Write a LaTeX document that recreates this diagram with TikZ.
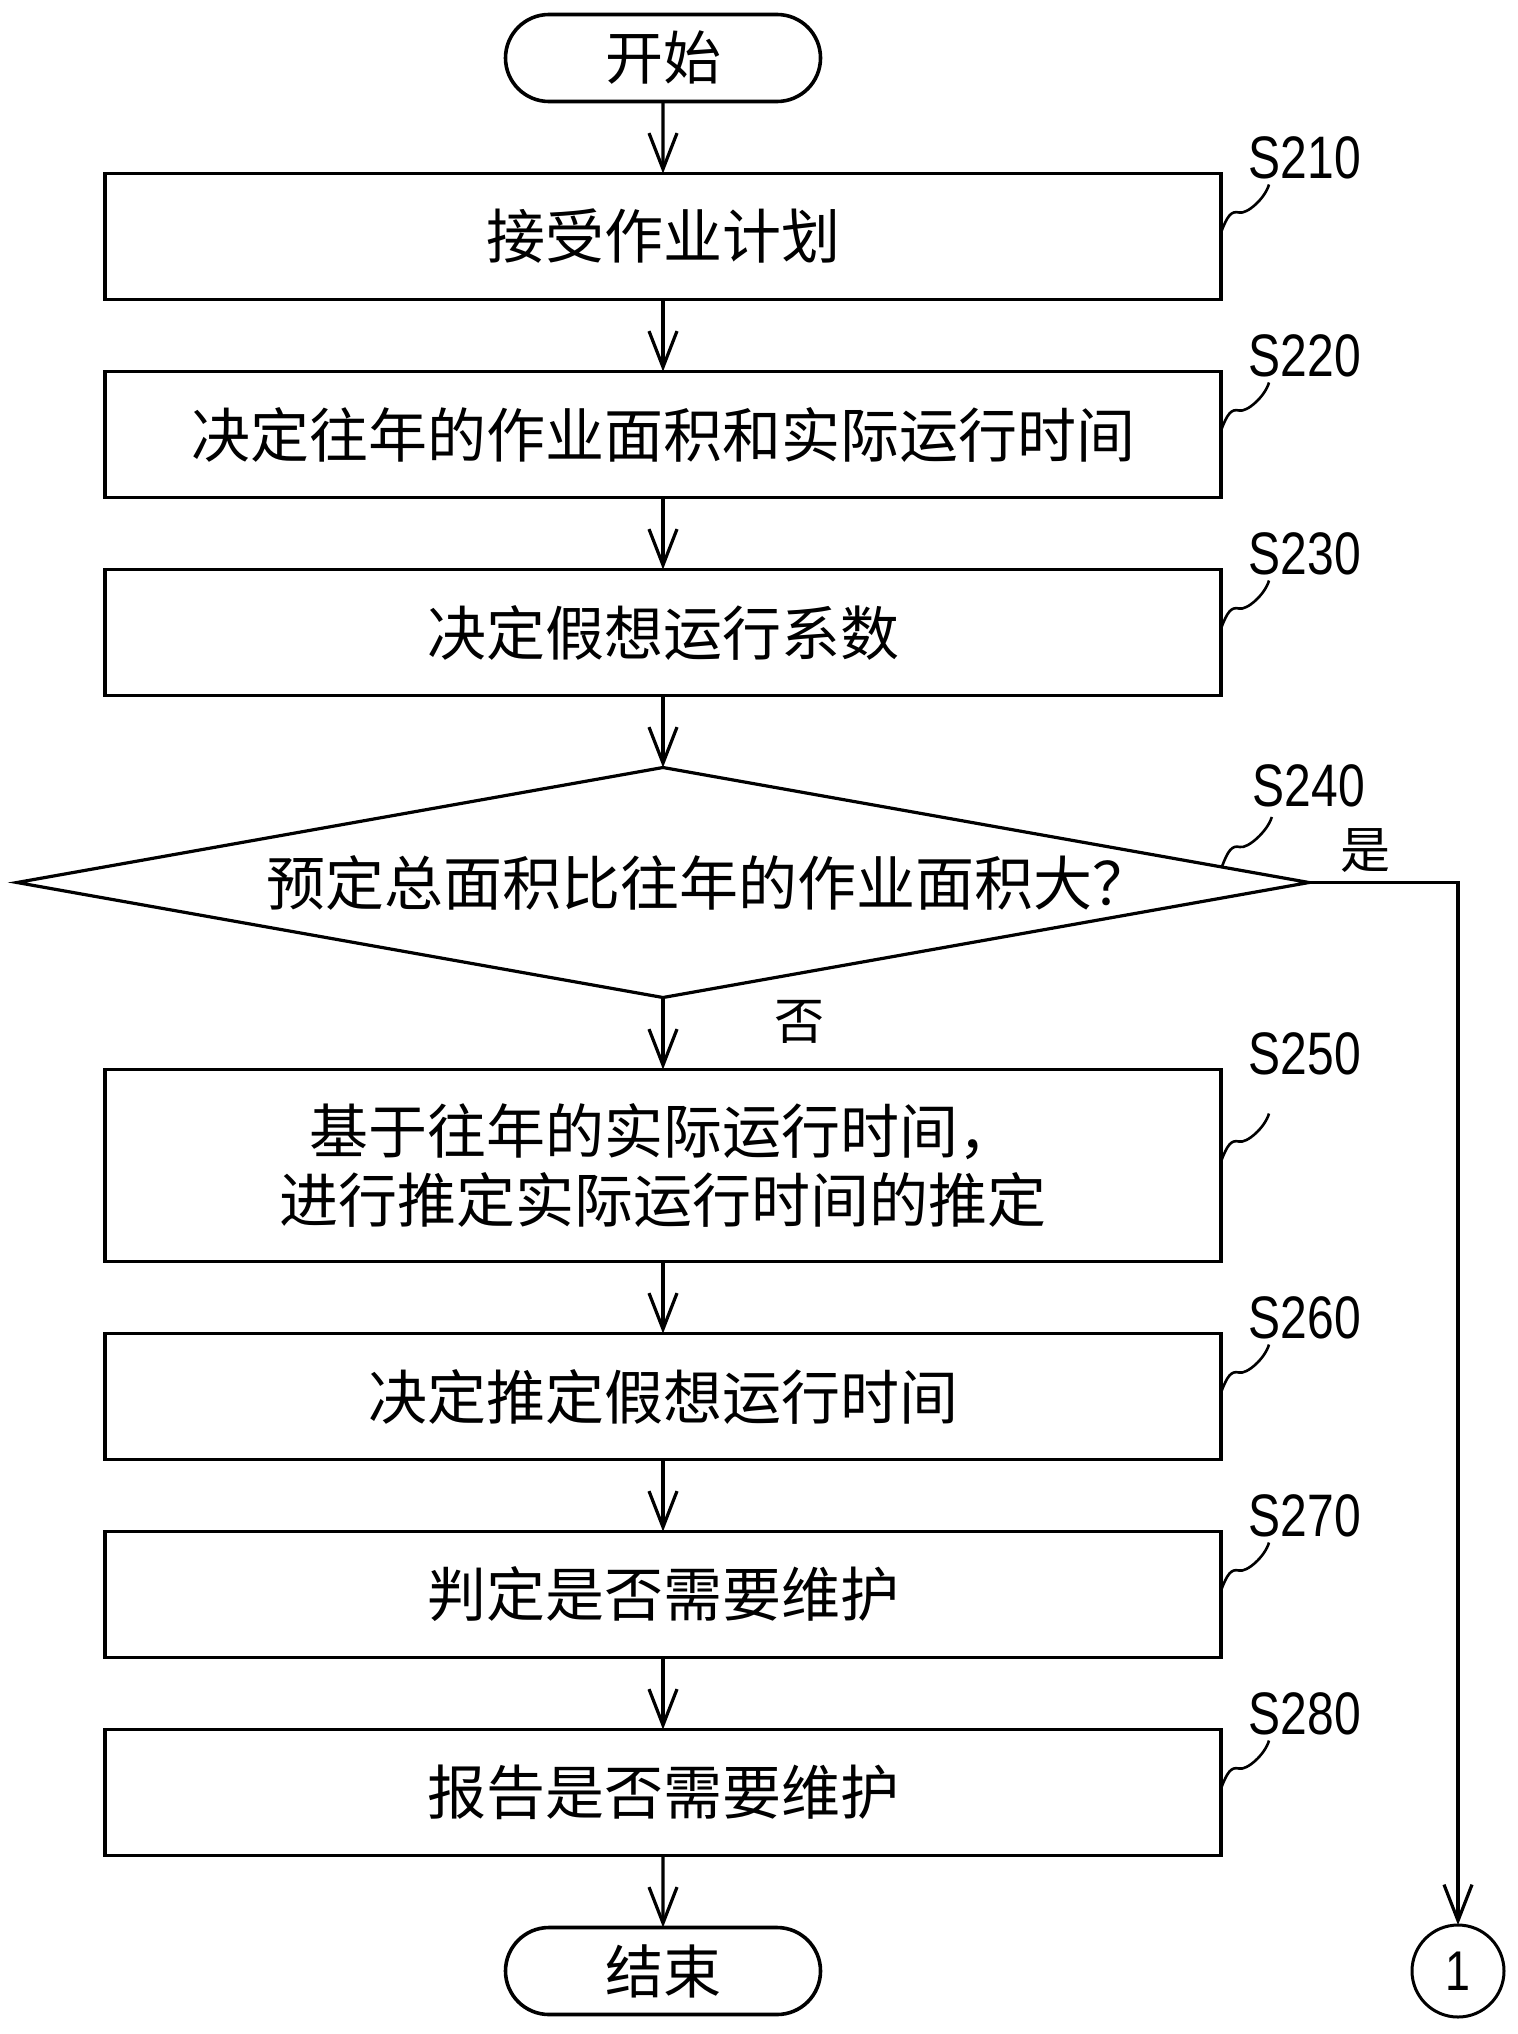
\documentclass[tikz,border=0pt]{standalone}
\usepackage{fontspec}
\newfontfamily\cjkfont{Noto Sans CJK SC}
\newfontfamily\numfont[FakeStretch=0.8]{Liberation Sans}
\usetikzlibrary{positioning,shapes.geometric,shapes.misc,arrows.meta,calc}

\tikzset{
  process/.style={draw, line width=1.8pt, minimum width=558pt, minimum height=63pt,
    inner sep=0pt, outer sep=0pt, align=center, font=\cjkfont\fontsize{29.5}{34.5}\selectfont},
  decision/.style={draw, diamond, line width=1.6pt, minimum width=646pt, minimum height=115pt,
    aspect=5.6, inner sep=0pt, outer sep=0pt, font=\cjkfont\fontsize{29.5}{34.5}\selectfont},
  terminal/.style={draw, rounded rectangle, line width=1.8pt, minimum width=157.5pt,
    minimum height=43.5pt, inner sep=0pt, outer sep=0pt, font=\cjkfont\fontsize{29}{34.5}\selectfont},
  connector/.style={draw, circle, line width=1.5pt, minimum size=46pt, inner sep=0pt,
    outer sep=0pt, font=\numfont\fontsize{28}{28}\selectfont},
  steplabel/.style={inner sep=0pt, font=\numfont\fontsize{30}{30}\selectfont},
  branchlabel/.style={inner sep=0pt, font=\cjkfont\fontsize{25}{25}\selectfont},
  flow/.style={line width=1.6pt, -{Straight Barb[length=18pt,width=14pt]}},
  lead/.style={line width=1.3pt},
}

\begin{document}
\begin{tikzpicture}
  \useasboundingbox (0pt,0pt) rectangle (759pt,-1017pt);
  % main chain
  \node[terminal] (start) at (331.5pt,-29pt) {开始};
  \node[process, below=36pt of start] (S210) {接受作业计划};
  \node[process, below=36pt of S210] (S220) {决定往年的作业面积和实际运行时间};
  \node[process, below=36pt of S220] (S230) {决定假想运行系数};
  \node[decision, below=36pt of S230] (S240) {\hspace{46pt}预定总面积比往年的作业面积大？};
  \node[process, minimum height=96pt, below=36pt of S240] (S250) {基于往年的实际运行时间，\\进行推定实际运行时间的推定};
  \node[process, below=36pt of S250] (S260) {决定推定假想运行时间};
  \node[process, below=36pt of S260] (S270) {判定是否需要维护};
  \node[process, below=36pt of S270] (S280) {报告是否需要维护};
  \node[terminal, below=36pt of S280] (stop) {结束};
  \node[connector] (c1) at (729pt,-985.5pt) {1};
  % step numbers
  \node[steplabel] (S210label) at ([xshift=42pt,yshift=8pt]S210.north east) {S210};
  \node[steplabel] (S220label) at ([xshift=42pt,yshift=8pt]S220.north east) {S220};
  \node[steplabel] (S230label) at ([xshift=42pt,yshift=8pt]S230.north east) {S230};
  \node[steplabel] (S240label) at ([yshift=48.5pt]S240.east) {S240};
  \node[steplabel] (S250label) at ([xshift=42pt,yshift=8pt]S250.north east) {S250};
  \node[steplabel] (S260label) at ([xshift=42pt,yshift=8pt]S260.north east) {S260};
  \node[steplabel] (S270label) at ([xshift=42pt,yshift=8pt]S270.north east) {S270};
  \node[steplabel] (S280label) at ([xshift=42pt,yshift=8pt]S280.north east) {S280};
  \node[branchlabel] (yes) at ([xshift=28pt,yshift=16pt]S240.east) {是};
  \node[branchlabel] (no) at ([xshift=68pt,yshift=-12pt]S240.south) {否};
  % arrows
  \draw[flow] (start) -- (S210);
  \draw[flow] (S210) -- (S220);
  \draw[flow] (S220) -- (S230);
  \draw[flow] (S230) -- (S240);
  \draw[flow] (S240) -- (S250);
  \draw[flow] (S250) -- (S260);
  \draw[flow] (S260) -- (S270);
  \draw[flow] (S270) -- (S280);
  \draw[flow] (S280) -- (stop);
  \draw[flow] (S240.east) -| (c1.north);
  % leader lines
  \draw[lead] ([yshift=2pt]S210.east) .. controls +(3pt,8pt) and +(-4pt,1pt) .. ++(9pt,10pt) .. controls +(4pt,-1pt) and +(-2pt,-7pt) .. ++(15pt,14pt);
  \draw[lead] ([yshift=2pt]S220.east) .. controls +(3pt,8pt) and +(-4pt,1pt) .. ++(9pt,10pt) .. controls +(4pt,-1pt) and +(-2pt,-7pt) .. ++(15pt,14pt);
  \draw[lead] ([yshift=2pt]S230.east) .. controls +(3pt,8pt) and +(-4pt,1pt) .. ++(9pt,10pt) .. controls +(4pt,-1pt) and +(-2pt,-7pt) .. ++(15pt,14pt);
  \draw[lead] ($(S240.east)!0.135!(S240.north)$) .. controls +(3pt,8pt) and +(-4pt,1pt) .. ++(9pt,10pt) .. controls +(4pt,-1pt) and +(-2pt,-7pt) .. ++(16pt,15pt);
  \draw[lead] ([yshift=2pt]S250.east) .. controls +(3pt,8pt) and +(-4pt,1pt) .. ++(9pt,10pt) .. controls +(4pt,-1pt) and +(-2pt,-7pt) .. ++(15pt,14pt);
  \draw[lead] ([yshift=2pt]S260.east) .. controls +(3pt,8pt) and +(-4pt,1pt) .. ++(9pt,10pt) .. controls +(4pt,-1pt) and +(-2pt,-7pt) .. ++(15pt,14pt);
  \draw[lead] ([yshift=2pt]S270.east) .. controls +(3pt,8pt) and +(-4pt,1pt) .. ++(9pt,10pt) .. controls +(4pt,-1pt) and +(-2pt,-7pt) .. ++(15pt,14pt);
  \draw[lead] ([yshift=2pt]S280.east) .. controls +(3pt,8pt) and +(-4pt,1pt) .. ++(9pt,10pt) .. controls +(4pt,-1pt) and +(-2pt,-7pt) .. ++(15pt,14pt);
\end{tikzpicture}
\end{document}
